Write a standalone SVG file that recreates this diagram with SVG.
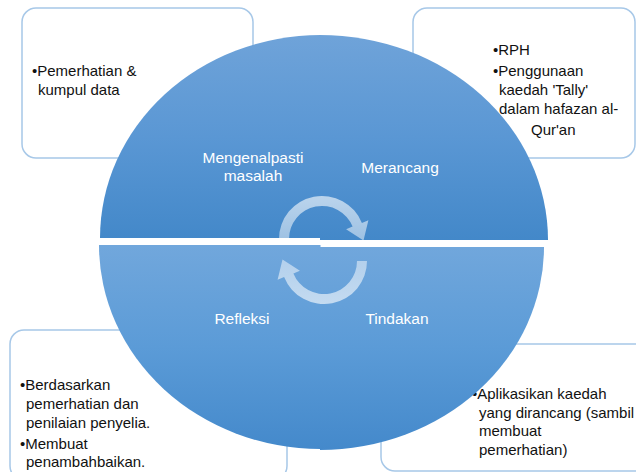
<svg xmlns="http://www.w3.org/2000/svg" width="636" height="472" viewBox="0 0 636 472">
<defs>
<linearGradient id="gTop" x1="0" y1="35" x2="0" y2="240" gradientUnits="userSpaceOnUse">
<stop offset="0" stop-color="#6fa3d9"/>
<stop offset="0.5" stop-color="#5a97d4"/>
<stop offset="1" stop-color="#4388c9"/>
</linearGradient>
<linearGradient id="gBot" x1="0" y1="245" x2="0" y2="450" gradientUnits="userSpaceOnUse">
<stop offset="0" stop-color="#71a7dc"/>
<stop offset="0.5" stop-color="#5b9bd7"/>
<stop offset="1" stop-color="#4489cb"/>
</linearGradient>
<linearGradient id="gArrow" x1="0" y1="0" x2="0" y2="1">
<stop offset="0" stop-color="#ffffff" stop-opacity="0.62"/>
<stop offset="1" stop-color="#ffffff" stop-opacity="0.48"/>
</linearGradient>
<style>
.box{fill:#ffffff;stroke:#a7c8e8;stroke-width:1.5}
.pie{stroke:none}
.arrow{fill:url(#gArrow)}
.lbl{font-family:"Liberation Sans",Arial,sans-serif;font-size:15.5px;fill:#ffffff;text-anchor:middle}
.txt{font-family:"Liberation Sans",Arial,sans-serif;font-size:15px;fill:#111111}
</style>
</defs>
<rect width="636" height="472" fill="#ffffff"/>

<g id="box-top-left">
<rect class="box" x="22" y="8" width="231" height="150" rx="14"/>
<text class="txt" x="32" y="76">•Pemerhatian &amp;</text>
<text class="txt" x="38" y="95">kumpul data</text>
</g>
<g id="box-top-right">
<rect class="box" x="413" y="8" width="222" height="150" rx="14"/>
<text class="txt" x="493" y="55">•RPH</text>
<text class="txt" x="493" y="76">•Penggunaan</text>
<text class="txt" x="499" y="95">kaedah 'Tally'</text>
<text class="txt" x="499" y="114">dalam hafazan al-</text>
<text class="txt" x="531" y="135">Qur'an</text>
</g>
<g id="box-bottom-left">
<rect class="box" x="10" y="330" width="277" height="150" rx="14"/>
<text class="txt" x="20" y="390">•Berdasarkan</text>
<text class="txt" x="26" y="409">pemerhatian dan</text>
<text class="txt" x="26" y="428">penilaian penyelia.</text>
<text class="txt" x="20" y="449">•Membuat</text>
<text class="txt" x="26" y="467">penambahbaikan.</text>
</g>
<g id="box-bottom-right">
<rect class="box" x="381" y="344" width="270" height="127" rx="14"/>
<text class="txt" x="472" y="399">•Aplikasikan kaedah</text>
<text class="txt" x="479" y="418">yang dirancang (sambil</text>
<text class="txt" x="479" y="436">membuat</text>
<text class="txt" x="479" y="455">pemerhatian)</text>
</g>

<g id="seg-mengenalpasti">
<path class="pie" fill="url(#gTop)" d="M320.5,238 L100,238 A220.5,203 0 0 1 320.5,35 Z"/>
<text class="lbl" x="253" y="163">Mengenalpasti</text>
<text class="lbl" x="253" y="181">masalah</text>
</g>
<g id="seg-merancang">
<path class="pie" fill="url(#gTop)" d="M320,240 L320,35 A228,205 0 0 1 548,240 Z"/>
<text class="lbl" x="400" y="173">Merancang</text>
</g>
<g id="seg-refleksi">
<path class="pie" fill="url(#gBot)" d="M320.5,245 L99,245 A221.5,204 0 0 0 320.5,449 Z"/>
<text class="lbl" x="242" y="324">Refleksi</text>
</g>
<g id="seg-tindakan">
<path class="pie" fill="url(#gBot)" d="M320,247 L544,247 A224,203 0 0 1 320,450 Z"/>
<text class="lbl" x="397" y="324">Tindakan</text>
</g>

<g id="connectors">
<path class="arrow" d="M279,239 A43,43 0 0 1 361.9,222.9 L368.4,220.3 L363.5,240.5 L346.1,229.3 L352.6,226.6 A33,33 0 0 0 289,239 Z"/>
<path class="arrow" transform="rotate(180 323 250)" d="M279,239 A43,43 0 0 1 361.9,222.9 L368.4,220.3 L363.5,240.5 L346.1,229.3 L352.6,226.6 A33,33 0 0 0 289,239 Z"/>
</g>
</svg>
